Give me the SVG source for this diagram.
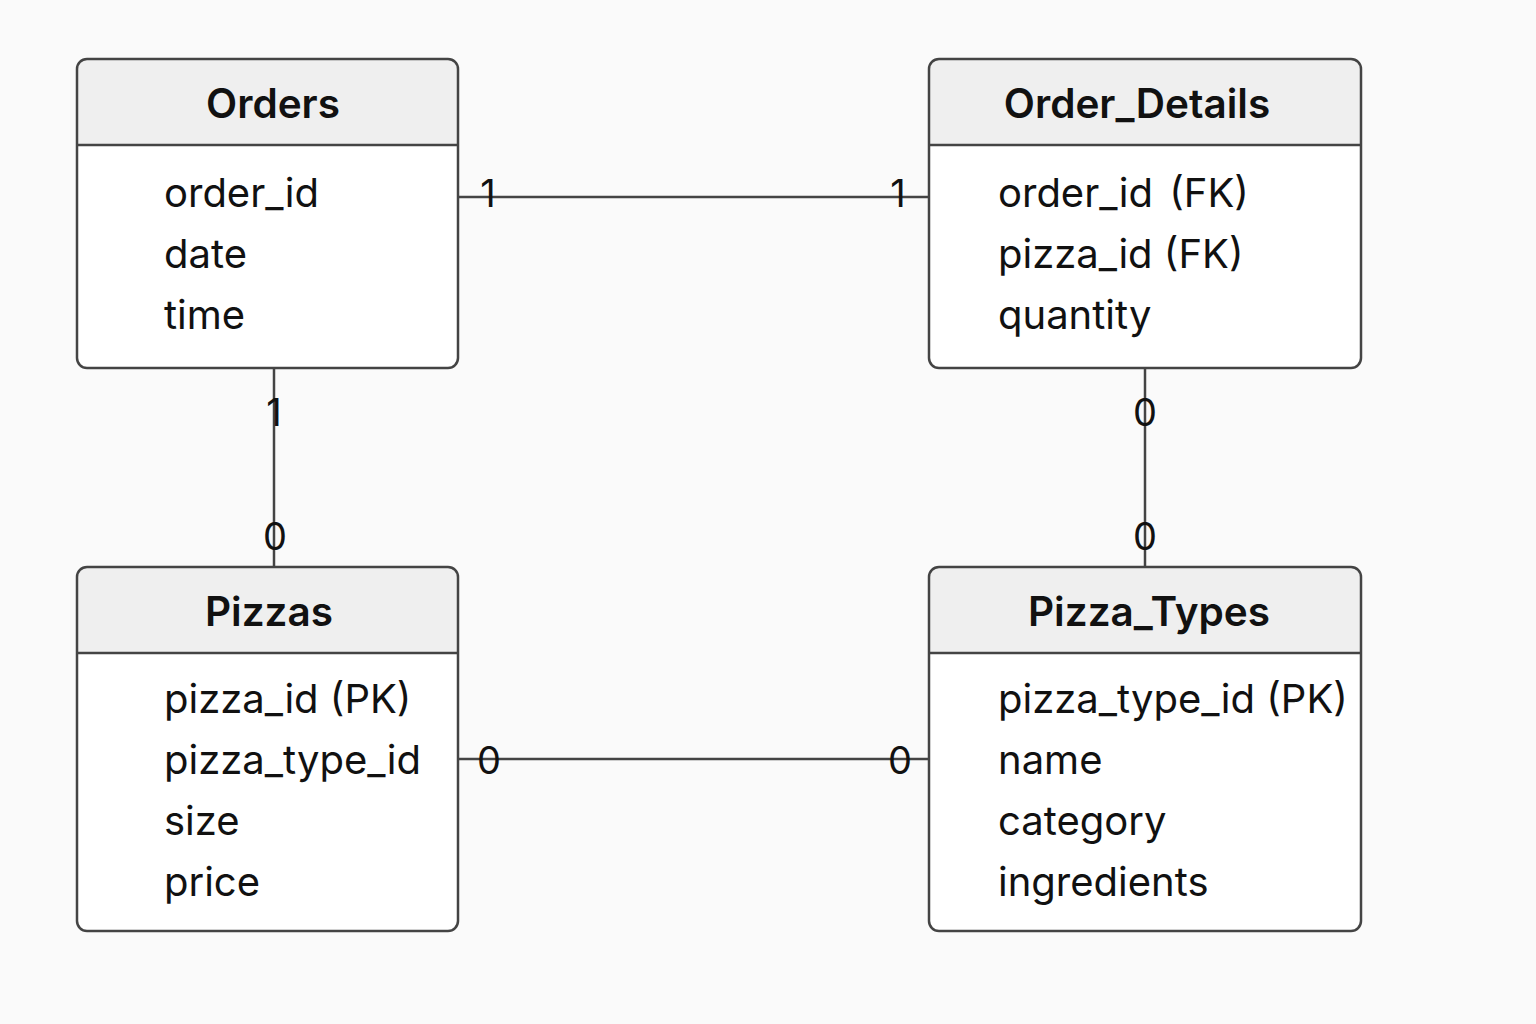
<svg xmlns="http://www.w3.org/2000/svg" width="1536" height="1024" viewBox="0 0 1536 1024">
<style>
.body{fill:#ffffff}
.box{fill:none;stroke:#444444;stroke-width:2.5}
.hdr{fill:#efefef}
.sep{stroke:#444444;stroke-width:2.5}
.title{font-family:Inter,"Noto Sans",sans-serif;font-size:40.5px;font-weight:600;fill:#111111;text-anchor:middle}
.attr{font-family:Inter,"Noto Sans",sans-serif;font-size:40px;fill:#111111}
.conn{stroke:#444444;stroke-width:2.5;fill:none}
.card{font-family:Inter,"Noto Sans",sans-serif;font-size:38px;fill:#111111;text-anchor:middle}
</style>
<rect width="1536" height="1024" fill="#fafafa"/>
<g id="connectors">
<line class="conn" x1="458" y1="197" x2="929" y2="197"/>
<line class="conn" x1="274" y1="368" x2="274" y2="567"/>
<line class="conn" x1="1145" y1="368" x2="1145" y2="567"/>
<line class="conn" x1="458" y1="759" x2="929" y2="759"/>
<text class="card" x="488" y="207">1</text>
<text class="card" x="898" y="207">1</text>
<text class="card" x="274" y="426">1</text>
<text class="card" x="275" y="550">0</text>
<text class="card" x="1145" y="426">0</text>
<text class="card" x="1145" y="550">0</text>
<text class="card" x="489" y="774">0</text>
<text class="card" x="900" y="774">0</text>
</g>
<g id="orders">
<rect class="body" x="77" y="59" width="381" height="309" rx="10"/>
<path class="hdr" d="M87,59 H448 A10,10 0 0 1 458,69 V145 H77 V69 A10,10 0 0 1 87,59 Z"/>
<rect class="box" x="77" y="59" width="381" height="309" rx="10"/>
<line class="sep" x1="77" y1="145" x2="458" y2="145"/>
<text class="title" x="273" y="118">Orders</text>
<text class="attr" x="164" y="207">order_id</text>
<text class="attr" x="164" y="268">date</text>
<text class="attr" x="164" y="329">time</text>
</g>
<g id="order_details">
<rect class="body" x="929" y="59" width="432" height="309" rx="10"/>
<path class="hdr" d="M939,59 H1351 A10,10 0 0 1 1361,69 V145 H929 V69 A10,10 0 0 1 939,59 Z"/>
<rect class="box" x="929" y="59" width="432" height="309" rx="10"/>
<line class="sep" x1="929" y1="145" x2="1361" y2="145"/>
<text class="title" x="1137" y="118">Order_Details</text>
<text class="attr" x="998" y="207">order_id <tspan dx="5">(FK)</tspan></text>
<text class="attr" x="998" y="268">pizza_id (FK)</text>
<text class="attr" x="998" y="329">quantity</text>
</g>
<g id="pizzas">
<rect class="body" x="77" y="567" width="381" height="364" rx="10"/>
<path class="hdr" d="M87,567 H448 A10,10 0 0 1 458,577 V653 H77 V577 A10,10 0 0 1 87,567 Z"/>
<rect class="box" x="77" y="567" width="381" height="364" rx="10"/>
<line class="sep" x1="77" y1="653" x2="458" y2="653"/>
<text class="title" x="269" y="626">Pizzas</text>
<text class="attr" x="164" y="713">pizza_id (PK)</text>
<text class="attr" x="164" y="774">pizza_type_id</text>
<text class="attr" x="164" y="835">size</text>
<text class="attr" x="164" y="896">price</text>
</g>
<g id="pizza_types">
<rect class="body" x="929" y="567" width="432" height="364" rx="10"/>
<path class="hdr" d="M939,567 H1351 A10,10 0 0 1 1361,577 V653 H929 V577 A10,10 0 0 1 939,567 Z"/>
<rect class="box" x="929" y="567" width="432" height="364" rx="10"/>
<line class="sep" x1="929" y1="653" x2="1361" y2="653"/>
<text class="title" x="1149" y="626">Pizza_Types</text>
<text class="attr" x="998" y="713">pizza_type_id (PK)</text>
<text class="attr" x="998" y="774">name</text>
<text class="attr" x="998" y="835">category</text>
<text class="attr" x="998" y="896">ingredients</text>
</g>
</svg>
